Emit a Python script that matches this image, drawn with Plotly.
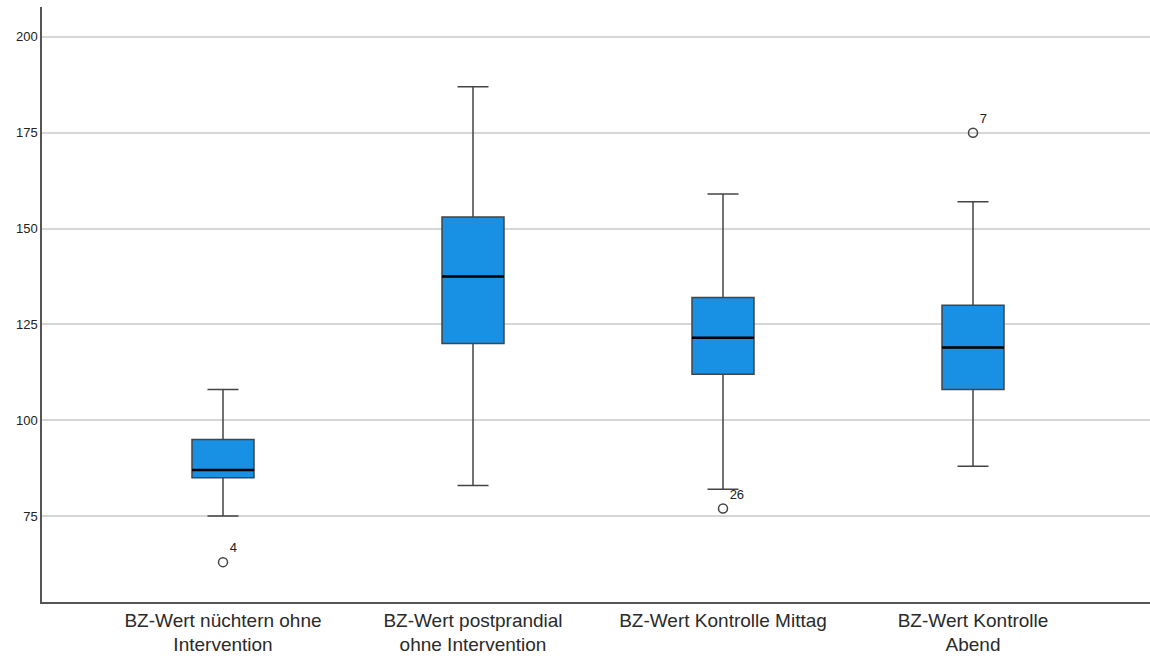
import plotly.graph_objects as go

categories = ["BZ-Wert nüchtern ohne<br>Intervention",
              "BZ-Wert postprandial<br>ohne Intervention",
              "BZ-Wert Kontrolle Mittag",
              "BZ-Wert Kontrolle<br>Abend"]
q1 = [85, 120, 112, 108]
median = [87, 137.5, 121.5, 119]
q3 = [95, 153, 132, 130]
lower_whisker = [75, 83, 82, 88]
upper_whisker = [108, 187, 159, 157]
outlier_cat = [0, 2, 3]
outlier_val = [63, 77, 175]
outlier_label = ["4", "26", "7"]
yticks = [75, 100, 125, 150, 175, 200]

xpos = list(range(len(categories)))
box_w = 0.248

fig = go.Figure()
fig.add_trace(go.Box(
    x=xpos, q1=q1, median=median, q3=q3,
    lowerfence=lower_whisker, upperfence=upper_whisker,
    width=box_w, whiskerwidth=0.5,
    fillcolor="#1890e4",
    line=dict(color="#444444", width=1.5),
    boxpoints=False, showlegend=False, hoverinfo="skip",
))
# thicker black median lines
for x, m in zip(xpos, median):
    fig.add_trace(go.Scatter(
        x=[x - box_w / 2, x + box_w / 2], y=[m, m], mode="lines",
        line=dict(color="#000000", width=2.5), showlegend=False, hoverinfo="skip"))

fig.add_trace(go.Scatter(
    x=outlier_cat, y=outlier_val, mode="markers+text",
    text=outlier_label, textposition="top right",
    textfont=dict(family="Liberation Sans, Arial, sans-serif", size=13, color="#222222"),
    marker=dict(symbol="circle-open", size=9, color="#444444", line=dict(width=1.5)),
    showlegend=False, hoverinfo="skip", cliponaxis=False))

fig.update_layout(
    width=1150, height=658,
    margin=dict(l=42, r=0, t=7, b=56),
    paper_bgcolor="white", plot_bgcolor="white",
    font=dict(family="Liberation Sans, Arial, sans-serif", color="#222222"),
    xaxis=dict(
        range=[-0.724, 3.708], tickvals=xpos, ticktext=categories,
        showgrid=False, zeroline=False, showline=True, linecolor="#555555",
        linewidth=1.5, ticks="", tickfont=dict(size=19, color="#2a2a2a"),
        ticklabelstandoff=0, automargin=False,
    ),
    yaxis=dict(
        range=[52.6, 207.8], tickvals=yticks, showgrid=True,
        gridcolor="#d6d6d6", gridwidth=2, zeroline=False, showline=True,
        linecolor="#555555", linewidth=1.5, ticks="",
        tickfont=dict(size=13, color="#222222"), automargin=False,
    ),
)

fig.write_html("out.html")
